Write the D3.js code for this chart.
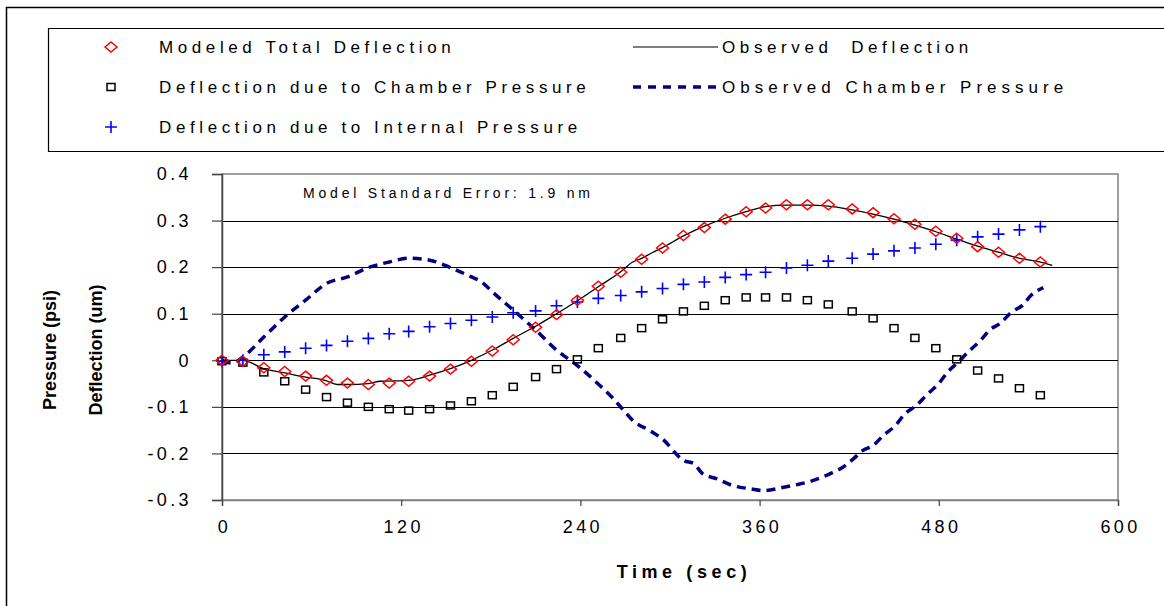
<!DOCTYPE html>
<html>
<head>
<meta charset="utf-8">
<script src="https://cdn.jsdelivr.net/npm/d3@7"></script>
<style>
  body { margin: 0; background: #fff; }
  svg { display: block; font-family: "Liberation Sans", Arial, sans-serif; }
</style>
</head>
<body>
<script>
// sample times (sec) for the modeled points
var times = [0, 14, 28, 42, 56, 70, 84, 98, 112, 125, 139, 153, 167, 181, 195, 210, 224, 238, 252, 267,
  281, 295, 309, 323, 337, 351, 364, 378, 392, 406, 422, 436, 450, 464, 478, 492, 506, 520, 534, 548];

var modeledTotal = [0, -0.002, -0.016, -0.024, -0.034, -0.043, -0.049, -0.052, -0.049, -0.045, -0.034, -0.019, -0.002, 0.020, 0.044, 0.071, 0.098, 0.129, 0.159, 0.189,
  0.217, 0.241, 0.268, 0.285, 0.303, 0.319, 0.327, 0.334, 0.334, 0.334, 0.325, 0.317, 0.304, 0.292, 0.277, 0.262, 0.244, 0.232, 0.219, 0.211];

var chamberDefl = [-0.002, -0.005, -0.026, -0.045, -0.063, -0.079, -0.091, -0.100, -0.105, -0.108, -0.105, -0.097, -0.088, -0.075, -0.057, -0.036, -0.019, 0.002, 0.026, 0.048,
  0.069, 0.088, 0.105, 0.117, 0.129, 0.135, 0.135, 0.135, 0.129, 0.120, 0.105, 0.090, 0.069, 0.048, 0.026, 0.002, -0.022, -0.039, -0.060, -0.075];

var internalDefl = [-0.002, 0, 0.012, 0.018, 0.026, 0.032, 0.041, 0.047, 0.057, 0.062, 0.072, 0.079, 0.086, 0.093, 0.102, 0.106, 0.117, 0.125, 0.133, 0.139,
  0.147, 0.154, 0.163, 0.168, 0.178, 0.184, 0.189, 0.198, 0.204, 0.213, 0.219, 0.228, 0.235, 0.241, 0.249, 0.258, 0.265, 0.271, 0.280, 0.287];

// observed deflection (solid line)
var obsDeflTime = [0, 14, 28, 42, 56, 70, 77, 84, 98, 106, 125, 139, 153, 167, 181, 195, 210, 224, 238, 252, 267, 275, 281, 288, 295,
  309, 323, 337, 351, 364, 378, 392, 406, 422, 436, 450, 464, 478, 492, 506, 520, 534, 548, 556];
var obsDefl = [0, 0, -0.018, -0.027, -0.036, -0.044, -0.052, -0.052, -0.050, -0.045, -0.043, -0.032, -0.018, 0, 0.022, 0.047, 0.073, 0.100, 0.128, 0.158, 0.190, 0.211, 0.219, 0.231, 0.242,
  0.267, 0.288, 0.305, 0.319, 0.330, 0.333, 0.333, 0.331, 0.323, 0.314, 0.303, 0.290, 0.276, 0.260, 0.245, 0.232, 0.219, 0.211, 0.204];

// observed chamber pressure (dashed line)
var obsPresTime = [0, 7, 14, 28, 42, 56, 70, 84, 98, 112, 125, 139, 153, 167, 174, 181, 195, 210, 224, 239, 253, 261, 268, 275, 287, 296,
  305, 309, 316, 322, 331, 342, 354, 363, 374, 385, 396, 407, 416, 423, 429, 436, 443, 451, 457, 465, 472, 480, 486, 493, 500, 508, 514, 521, 529, 536, 542, 550];
var obsPres = [0, -0.006, 0.007, 0.050, 0.093, 0.129, 0.165, 0.179, 0.199, 0.211, 0.219, 0.215, 0.199, 0.179, 0.168, 0.147, 0.108, 0.065, 0.022, -0.014, -0.054, -0.079, -0.104, -0.129, -0.152, -0.172,
  -0.204, -0.215, -0.222, -0.244, -0.254, -0.269, -0.276, -0.280, -0.274, -0.267, -0.258, -0.244, -0.229, -0.211, -0.194, -0.183, -0.161, -0.140, -0.116, -0.097, -0.074, -0.050, -0.025, -0.004, 0.019, 0.043, 0.065, 0.079, 0.104, 0.118, 0.140, 0.156];

var xTicks = [0, 120, 240, 360, 480, 600];
var yTicks = [-0.3, -0.2, -0.1, 0, 0.1, 0.2, 0.3, 0.4];

var W = 1164, H = 606;
var plotL = 222, plotR = 1118, plotT = 174, plotB = 500;

var x = d3.scaleLinear().domain([0, 600]).range([plotL, plotR]);
var y = d3.scaleLinear().domain([-0.3, 0.4]).range([plotB, plotT]);

var navy = '#000080';

var svg = d3.select('body').append('svg')
  .attr('width', W)
  .attr('height', H);

// outer frame
svg.append('path')
  .attr('d', 'M6.5,' + H + 'V7.5H' + W)
  .attr('fill', 'none')
  .attr('stroke', '#000')
  .attr('stroke-width', 1.5);

// legend box
svg.append('path')
  .attr('d', 'M' + W + ',28.5H48.5V151.5H' + W)
  .attr('fill', 'none')
  .attr('stroke', '#000')
  .attr('stroke-width', 1.2);

var diamond = function(sel, s) {
  return sel.append('path')
    .attr('d', 'M0,' + (-s) + 'L' + (s + 1) + ',0L0,' + s + 'L' + (-s - 1) + ',0Z')
    .attr('fill', 'none')
    .attr('stroke', '#ff0000')
    .attr('stroke-width', 1.5);
};
var square = function(sel) {
  return sel.append('rect')
    .attr('x', -4).attr('y', -3.5)
    .attr('width', 8).attr('height', 7)
    .attr('fill', 'none')
    .attr('stroke', '#000')
    .attr('stroke-width', 1.5);
};
var plus = function(sel) {
  return sel.append('path')
    .attr('d', 'M-6,0H6M0,-6V6')
    .attr('stroke', '#0000ff')
    .attr('stroke-width', 1.6);
};

var legFont = 17, legSpacing = 4.6;

// legend entries
var legLeft = [
  {label: 'Modeled Total Deflection', y: 47, mark: function(g) { diamond(g, 5); }},
  {label: 'Deflection due to Chamber Pressure', y: 87, mark: square},
  {label: 'Deflection due to Internal Pressure', y: 127, mark: plus}
];
legLeft.forEach(function(d) {
  var g = svg.append('g').attr('transform', 'translate(111,' + d.y + ')');
  d.mark(g);
  svg.append('text')
    .attr('x', 159).attr('y', d.y + 6)
    .attr('font-size', legFont)
    .attr('letter-spacing', legSpacing)
    .text(d.label);
});

svg.append('line')
  .attr('x1', 633).attr('x2', 718).attr('y1', 47).attr('y2', 47)
  .attr('stroke', '#000').attr('stroke-width', 1.2);
svg.append('line')
  .attr('x1', 633).attr('x2', 718).attr('y1', 87).attr('y2', 87)
  .attr('stroke', navy).attr('stroke-width', 3.5)
  .attr('stroke-dasharray', '8,7');
svg.append('text')
  .attr('x', 722).attr('y', 53)
  .attr('font-size', legFont).attr('letter-spacing', legSpacing)
  .attr('xml:space', 'preserve')
  .text('Observed  Deflection');
svg.append('text')
  .attr('x', 722).attr('y', 93)
  .attr('font-size', legFont).attr('letter-spacing', 5)
  .text('Observed Chamber Pressure');

// plot frame
svg.append('rect')
  .attr('x', plotL).attr('y', plotT)
  .attr('width', plotR - plotL).attr('height', plotB - plotT)
  .attr('fill', '#fff')
  .attr('stroke', '#808080')
  .attr('stroke-width', 1.5);

// gridlines
svg.append('g').selectAll('line')
  .data(yTicks.filter(function(v) { return v > -0.3 && v < 0.4; }))
  .enter().append('line')
  .attr('x1', plotL).attr('x2', plotR)
  .attr('y1', function(d) { return Math.round(y(d)) + 0.5; })
  .attr('y2', function(d) { return Math.round(y(d)) + 0.5; })
  .attr('stroke', '#000')
  .attr('stroke-width', 1);

// y axis (plain hyphen for negatives, like the original)
var yAxis = d3.axisLeft(y).tickValues(yTicks).tickSize(10).tickPadding(20)
  .tickFormat(function(d) { return d === 0 ? '0' : (d < 0 ? '-' : '') + Math.abs(d).toFixed(1); });
var gy = svg.append('g').attr('transform', 'translate(' + plotL + ',0)').call(yAxis);
gy.select('.domain').attr('stroke', '#444').attr('stroke-width', 1.5);
gy.selectAll('.tick line').attr('stroke', '#444').attr('stroke-width', 1.2);
gy.selectAll('.tick text')
  .attr('font-size', 18)
  .attr('font-family', '"Liberation Sans", Arial, sans-serif')
  .attr('fill', '#000')
  .attr('letter-spacing', 3.4);

// x axis
var xAxis = d3.axisBottom(x).tickValues(xTicks).tickSize(6).tickPadding(14);
var gx = svg.append('g').attr('transform', 'translate(0,' + plotB + ')').call(xAxis);
gx.select('.domain').attr('stroke', '#808080').attr('stroke-width', 1.5);
gx.selectAll('.tick line').attr('stroke', '#444').attr('stroke-width', 1.2);
gx.selectAll('.tick text')
  .attr('font-size', 18)
  .attr('font-family', '"Liberation Sans", Arial, sans-serif')
  .attr('fill', '#000')
  .attr('dx', 2)
  .attr('letter-spacing', 3.4);

// axis titles
svg.append('text')
  .attr('transform', 'translate(56,350) rotate(-90)')
  .attr('text-anchor', 'middle')
  .attr('font-size', 18).attr('font-weight', 'bold')
  .text('Pressure (psi)');
svg.append('text')
  .attr('transform', 'translate(102,350) rotate(-90)')
  .attr('text-anchor', 'middle')
  .attr('font-size', 18).attr('font-weight', 'bold')
  .text('Deflection (um)');
svg.append('text')
  .attr('x', 684).attr('y', 578)
  .attr('text-anchor', 'middle')
  .attr('font-size', 18).attr('font-weight', 'bold')
  .attr('letter-spacing', 4.6)
  .text('Time (sec)');

// annotation
svg.append('text')
  .attr('x', 303).attr('y', 198)
  .attr('font-size', 14)
  .attr('letter-spacing', 3.8)
  .text('Model Standard Error: 1.9 nm');

// observed chamber pressure
var presLine = d3.line()
  .x(function(d, i) { return x(obsPresTime[i]); })
  .y(function(d) { return y(d); })
  .curve(d3.curveMonotoneX);
svg.append('path')
  .datum(obsPres)
  .attr('d', presLine)
  .attr('fill', 'none')
  .attr('stroke', navy)
  .attr('stroke-width', 3.5)
  .attr('stroke-dasharray', '9,6');

// observed deflection
var deflLine = d3.line()
  .x(function(d, i) { return x(obsDeflTime[i]); })
  .y(function(d) { return y(d); })
  .curve(d3.curveMonotoneX);
svg.append('path')
  .datum(obsDefl)
  .attr('d', deflLine)
  .attr('fill', 'none')
  .attr('stroke', '#000')
  .attr('stroke-width', 1.3);

// markers
svg.append('g').selectAll('g')
  .data(chamberDefl)
  .enter().append('g')
  .attr('transform', function(d, i) { return 'translate(' + x(times[i]) + ',' + y(d) + ')'; })
  .each(function() { square(d3.select(this)); });

svg.append('g').selectAll('g')
  .data(internalDefl)
  .enter().append('g')
  .attr('transform', function(d, i) { return 'translate(' + x(times[i]) + ',' + y(d) + ')'; })
  .each(function() { plus(d3.select(this)); });

svg.append('g').selectAll('g')
  .data(modeledTotal)
  .enter().append('g')
  .attr('transform', function(d, i) { return 'translate(' + x(times[i]) + ',' + y(d) + ')'; })
  .each(function() { diamond(d3.select(this), 5); });
</script>
</body>
</html>
